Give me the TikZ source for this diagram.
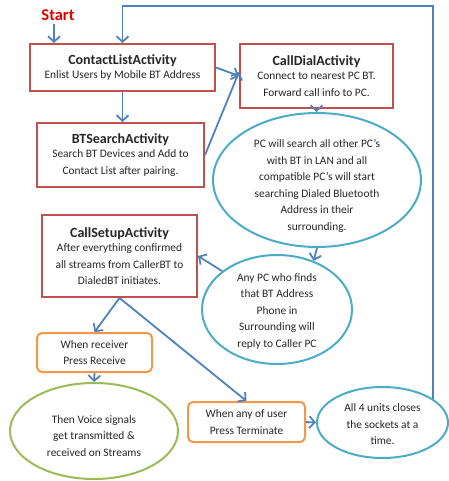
\documentclass[tikz,border=0pt]{standalone}
\usepackage{fontspec}
\setmainfont{Carlito}
\usetikzlibrary{shapes.geometric,arrows.meta}

\definecolor{boxred}{HTML}{C0504D}
\definecolor{flowblue}{HTML}{4F81BD}
\definecolor{tealline}{HTML}{4BACC6}
\definecolor{orangeline}{HTML}{F79646}
\definecolor{greenline}{HTML}{9BBB59}

\newcommand\acttitle[1]{{\fontsize{14}{17}\selectfont\bfseries #1}}

\tikzset{
  bodytext/.style={font=\fontsize{11.4}{16.5}\selectfont, text=black!85, align=center},
  actbox/.style={draw=boxred, line width=2pt, fill=white, inner sep=0pt, bodytext},
  eventbox/.style={draw=orangeline, line width=2pt, rounded corners=5pt, fill=white, inner sep=0pt, bodytext},
  bubble/.style={ellipse, draw=tealline, line width=2pt, inner sep=0pt},
  greenbubble/.style={ellipse, draw=greenline, line width=2pt, inner sep=0pt},
  arr/.style={draw=flowblue, line width=1.8pt, -{Straight Barb[length=5.5pt,width=12pt,line width=1.8pt]}},
}

\begin{document}
\begin{tikzpicture}[x=1pt,y=-1pt]
\useasboundingbox (0,0) rectangle (448,481);

% activity boxes
\node[font=\fontsize{16.5}{18}\selectfont\bfseries, text=red!90!black] (start) at (58,15) {Start};
\node[actbox, minimum width=185, minimum height=47] (cla) at (122.5,67.5)
  {\acttitle{ContactListActivity}\\[-2pt]Enlist Users by Mobile BT Address};
\node[actbox, minimum width=153, minimum height=64] (cd) at (316.5,76)
  {\acttitle{CallDialActivity}\\[-2pt]Connect to nearest PC BT.\\Forward call info to PC.};
\node[actbox, minimum width=167, minimum height=64] (bts) at (120.5,155)
  {\acttitle{BTSearchActivity}\\[-2pt]Search BT Devices and Add to\\Contact List after pairing.};
\node[actbox, minimum width=155, minimum height=82] (csa) at (119.5,256)
  {\acttitle{CallSetupActivity}\\[-2pt]After everything confirmed\\all streams from CallerBT to\\DialedBT initiates.};

% ellipses
\node[bubble, minimum width=208, minimum height=134,
  label={[bodytext, yshift=-6pt]center:PC will search all other PC’s\\with BT in LAN and all\\compatible PC’s will start\\searching Dialed Bluetooth\\Address in their\\surrounding.}] (e1) at (317,180) {};
\node[bubble, minimum width=150, minimum height=109,
  label={[bodytext, yshift=-1.5pt]center:Any PC who finds\\that BT Address\\Phone in\\Surrounding will\\reply to Caller PC}] (e2) at (277,309.5) {};
\node[bubble, minimum width=131, minimum height=71,
  label={[bodytext, yshift=-2pt]center:All 4 units closes\\the sockets at a\\time.}] (e3) at (382.5,422.5) {};
\node[greenbubble, minimum width=168, minimum height=96,
  label={[bodytext, yshift=-5pt]center:Then Voice signals\\get transmitted \&\\received on Streams}] (voice) at (94,431) {};

% event boxes
\node[eventbox, minimum width=115, minimum height=39] (rcv) at (94.5,352.5)
  {When receiver\\Press Receive};
\node[eventbox, minimum width=117, minimum height=40] (term) at (246.5,422)
  {When any of user\\Press Terminate};

% connectors
\draw[arr] (start.south -| cla.north west) ++(25,0) coordinate (s0) -- (s0 |- cla.north);
\draw[arr] (e3.25) -- (e3.25 |- start.north) -| (cla.north);
\draw[arr] (cla.east) -- (cd.west);
\draw[arr] (bts.east) -- ([yshift=4pt]cd.west);
\draw[arr] (cla.south) -- (cla.south |- bts.north);
\draw[arr] (cd.south) -- (cd.south |- e1.north);
\draw[arr] (e1.south) -- (e2.53);
\draw[arr] (e2.145) -- (csa.east);
\draw[arr] (csa.south) -- (rcv.north);
\draw[arr] (csa.south) -- (term.north);
\draw[arr] (rcv.south) -- (voice.north);
\draw[arr] (term.east) -- (e3.west);
\end{tikzpicture}
\end{document}
